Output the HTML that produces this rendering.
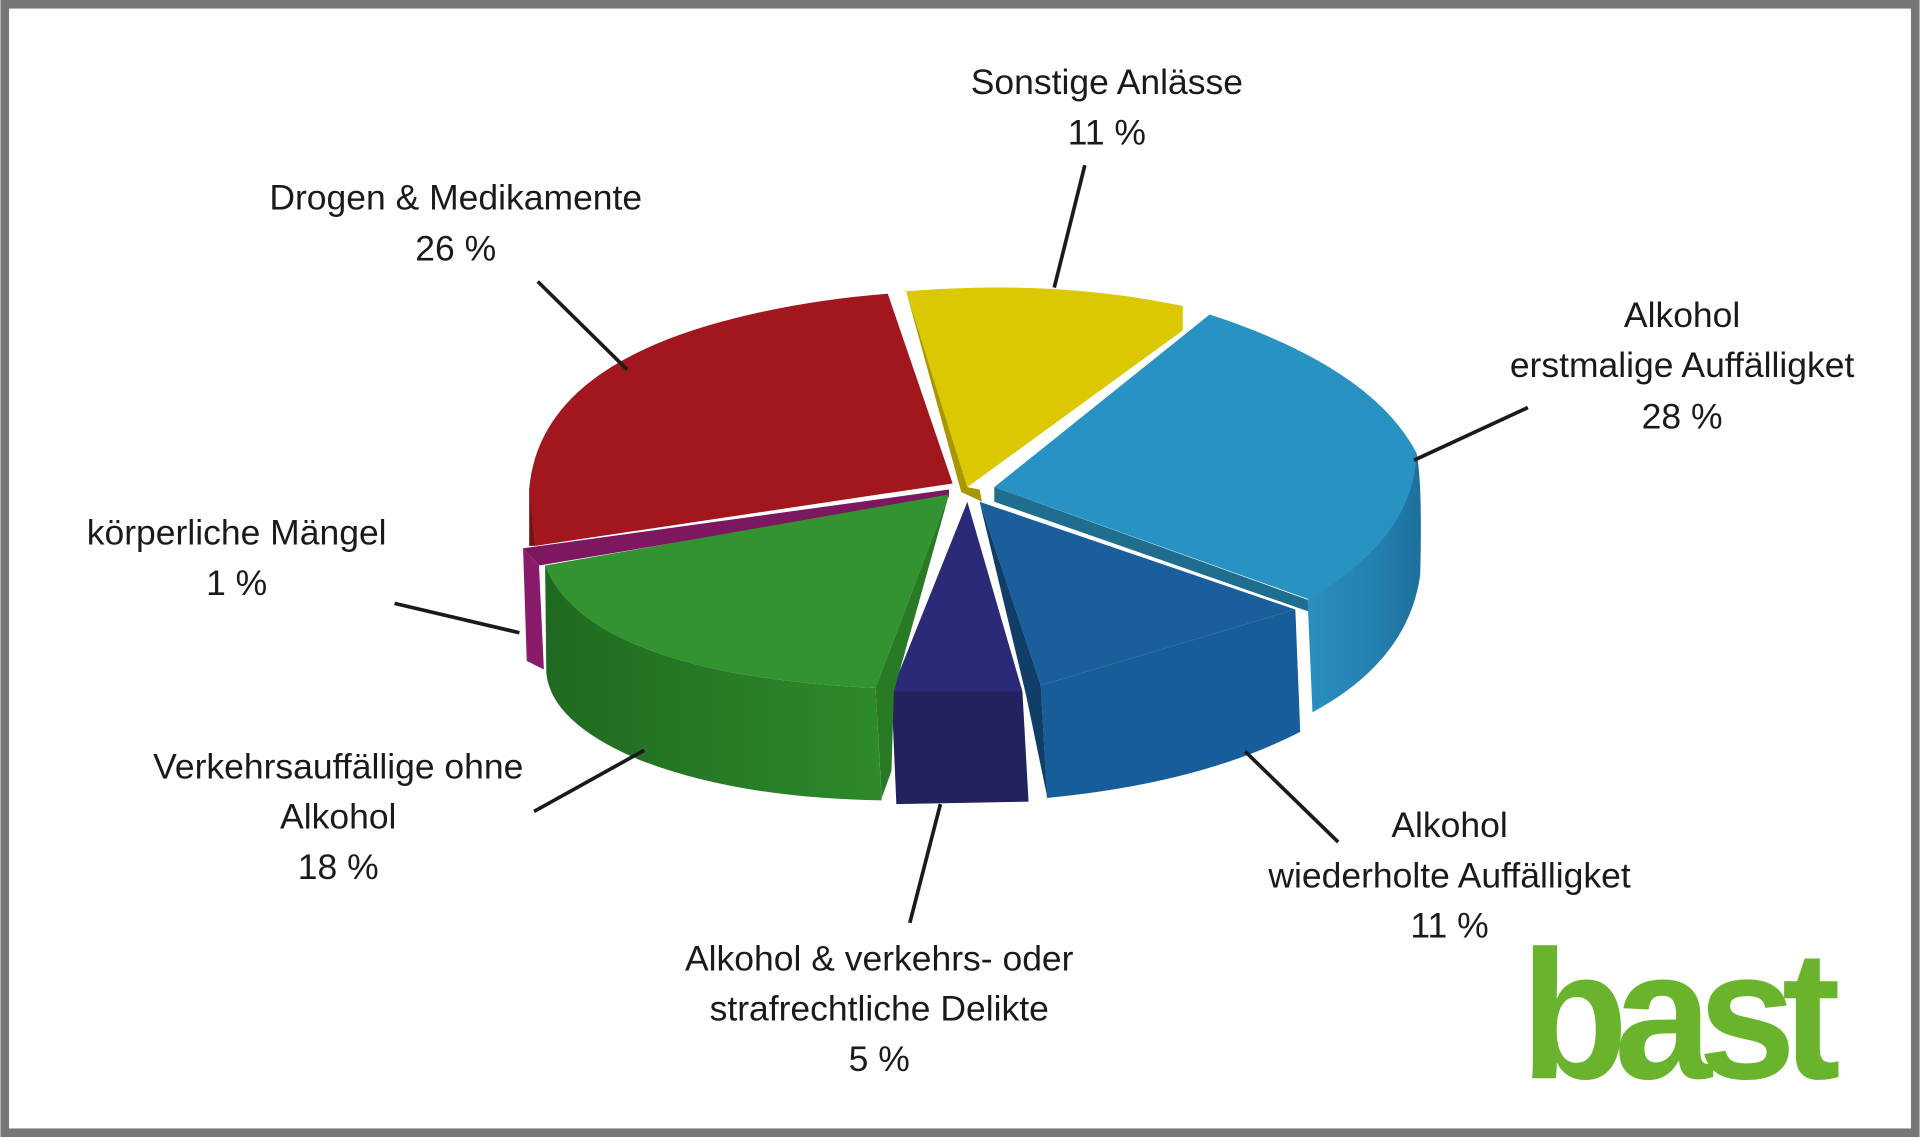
<!DOCTYPE html>
<html><head><meta charset="utf-8"><style>
html,body{margin:0;padding:0;background:#fff}
svg{display:block}
text{font-family:"Liberation Sans",sans-serif;fill:#1a1a1a}
</style></head><body>
<svg width="1920" height="1137" viewBox="0 0 1568 929" xmlns="http://www.w3.org/2000/svg">
<defs>
<linearGradient id="gs" x1="0" x2="1"><stop offset="0" stop-color="#1f6a20"/><stop offset="1" stop-color="#2e8a2b"/></linearGradient>
<linearGradient id="bs" x1="0" x2="1"><stop offset="0" stop-color="#2a8fbf"/><stop offset="0.6" stop-color="#2380b0"/><stop offset="1" stop-color="#1e6f9c"/></linearGradient>
</defs>
<rect x="0" y="0" width="1568" height="929" fill="#777"/>
<rect x="7" y="7" width="1554" height="915" fill="#fff"/>

<path d="M432,400 Q440,300 600,260 Q660,245 725,240 L778,395 L437,446 Z" fill="#a2161d"/>
<path d="M432,398 L437,446 L432,446 Z" fill="#7d1015"/>
<path d="M740,238 Q860,228 966,250 L966,270 L790,398 Z" fill="#dcc800"/>
<path d="M740,238 L790,398 L800,400 L802,410 L785,402 Z" fill="#a89700"/>
<path d="M988,257 Q1120,300 1157,370 Q1160,440 1070,490 L812,398 Z" fill="#2892c2"/>
<path d="M812,398 L1068,490 L1070,500 L812,410 Z" fill="#1f6e90"/>
<path d="M1157,370 Q1162,395 1160,470 Q1150,540 1072,582 L1068,490 Q1155,440 1157,370 Z" fill="url(#bs)"/>
<path d="M800,410 L1058,498 L850,560 Z" fill="#1a5f9b"/>
<path d="M850,560 L1058,498 L1062,598 Q980,640 855,652 Z" fill="#175d99"/>
<path d="M800,410 L850,560 L855,650 L838,568 Z" fill="#103e66"/>
<path d="M790,410 L728,565 L835,565 Z" fill="#2a2a78"/>
<path d="M728,565 L835,565 L840,655 L732,657 Z" fill="#22225f"/>
<path d="M427,448 L775,400 L775,406 L440,462 Z" fill="#7d1860"/>
<path d="M427,448 L440,462 L444,547 L430,540 Z" fill="#8a1a6a"/>
<path d="M775,404 L445,462 Q470,525 600,550 Q660,560 715,562 Z" fill="#339330"/>
<path d="M445,462 Q470,525 600,550 Q660,560 715,562 L720,654 Q600,652 520,620 Q450,590 446,550 Z" fill="url(#gs)"/>
<path d="M775,404 L715,562 L720,652 L728,630 L730,565 Z" fill="#287a25"/>

<g stroke="#1a1a1a" stroke-width="3">
<line x1="886" y1="135" x2="861" y2="235"/>
<line x1="439" y1="230" x2="512" y2="302"/>
<line x1="1248" y1="333" x2="1155" y2="376"/>
<line x1="322" y1="493" x2="424" y2="517"/>
<line x1="436" y1="663" x2="526" y2="613"/>
<line x1="768" y1="657" x2="743" y2="754"/>
<line x1="1017" y1="614" x2="1093" y2="688"/>
</g>

<g font-size="29" text-anchor="middle">
<text x="904" y="77">Sonstige Anlässe</text>
<text x="904" y="118">11 %</text>
<text x="372" y="171">Drogen &amp; Medikamente</text>
<text x="372" y="213">26 %</text>
<text x="1374" y="267">Alkohol</text>
<text x="1374" y="308">erstmalige Auffälligket</text>
<text x="1374" y="350">28 %</text>
<text x="193" y="445">körperliche Mängel</text>
<text x="193" y="486">1 %</text>
<text x="276" y="636">Verkehrsauffällige ohne</text>
<text x="276" y="677">Alkohol</text>
<text x="276" y="718">18 %</text>
<text x="1184" y="684">Alkohol</text>
<text x="1184" y="725">wiederholte Auffälligket</text>
<text x="1184" y="766">11 %</text>
<text x="718" y="793">Alkohol &amp; verkehrs- oder</text>
<text x="718" y="834">strafrechtliche Delikte</text>
<text x="718" y="875">5 %</text>
</g>
<text x="1242" y="881" font-size="150" font-weight="bold" letter-spacing="-12" textLength="250" lengthAdjust="spacingAndGlyphs" style="fill:#6ab42d">bast</text>
</svg>
</body></html>
